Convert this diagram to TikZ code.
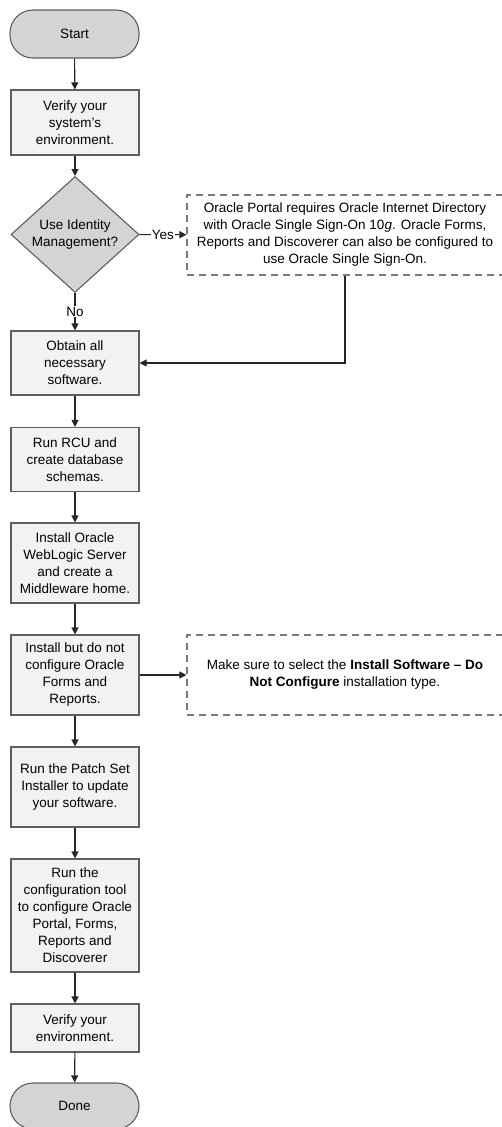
\documentclass[tikz,border=0pt]{standalone}
\usepackage{fontspec}
\setmainfont{Liberation Sans}
\usepackage{tikz}
\usetikzlibrary{shapes,arrows}
\usetikzlibrary{positioning}
\usetikzlibrary{shapes.geometric}
\usetikzlibrary{arrows.meta}
\definecolor{termgray}{HTML}{D4D4D4}
\definecolor{boxgray}{HTML}{F2F2F2}
\definecolor{edgegray}{HTML}{5E5E5E}
\definecolor{notegray}{HTML}{7A7A7A}
\definecolor{linegray}{HTML}{262626}

\begin{document}
\begin{tikzpicture}[x=1pt,y=-1pt,
  font=\fontsize{13.5}{17}\selectfont,
  term/.style={rectangle, rounded corners=23pt, draw=edgegray, line width=1.1pt, fill=termgray, minimum width=129pt, minimum height=48pt},
  proc/.style={rectangle, draw=edgegray, line width=1.1pt, fill=boxgray, minimum width=128pt, align=center, inner sep=2pt},
  decide/.style={diamond, draw=edgegray, line width=1.1pt, fill=termgray, minimum width=128pt, minimum height=95pt, align=center, inner sep=0pt},
  note/.style={rectangle, draw=notegray, line width=1.1pt, dash pattern=on 7pt off 5pt, minimum width=316pt, minimum height=80pt, align=center},
  arr/.style={-{Triangle[length=7pt,width=7pt]}, draw=linegray, line width=1.1pt},
  lbl/.style={fill=white, inner sep=1pt}]
 \useasboundingbox (0,0) rectangle (502,1127);

 \node[term] (start) at (74.5,34) {Start};
 \node[proc, minimum height=65pt] (verify) at (75,122.5) {Verify your\\system's\\environment.};
 \node[decide] (identity) at (75,234.5) {Use Identity\\Management?};
 \node[note] (portalnote) at (345,235) {Oracle Portal requires Oracle Internet Directory\\with Oracle Single Sign-On 10\textit{g}. Oracle Forms,\\Reports and Discoverer can also be configured to\\use Oracle Single Sign-On.};
 \node[proc, minimum height=64pt] (obtain) at (75,363) {Obtain all\\necessary\\software.};
 \node[proc, minimum height=64pt] (rcu) at (75,459.5) {Run RCU and\\create database\\schemas.};
 \node[proc, minimum height=80pt] (weblogic) at (75,563) {Install Oracle\\WebLogic Server\\and create a\\Middleware home.};
 \node[proc, minimum height=80pt] (forms) at (75,675) {Install but do not\\configure Oracle\\Forms and\\Reports.};
 \node[note] (formsnote) at (345,675) {Make sure to select the \textbf{Install Software -- Do}\\\textbf{Not Configure} installation type.};
 \node[proc, minimum height=80pt] (patch) at (75,787) {Run the Patch Set\\Installer to update\\your software.};
 \node[proc, minimum height=113pt] (config) at (75,915.5) {Run the\\configuration tool\\to configure Oracle\\Portal, Forms,\\Reports and\\Discoverer};
 \node[proc, minimum height=48pt] (verifyenv) at (75,1028) {Verify your\\environment.};
 \node[term, minimum height=46pt] (done) at (74.5,1106) {Done};

 \draw[arr] (start) -- (verify);
 \draw[arr] (verify) -- (identity);
 \draw[arr] (identity) -- node[lbl] {Yes} (portalnote);
 \draw[arr] (identity) -- node[lbl] {No} (obtain);
 \draw[arr] (portalnote.south) |- (obtain.east);
 \draw[arr] (obtain) -- (rcu);
 \draw[arr] (rcu) -- (weblogic);
 \draw[arr] (weblogic) -- (forms);
 \draw[arr] (forms) -- (formsnote);
 \draw[arr] (forms) -- (patch);
 \draw[arr] (patch) -- (config);
 \draw[arr] (config) -- (verifyenv);
 \draw[arr] (verifyenv) -- (done);
\end{tikzpicture}
\end{document}
